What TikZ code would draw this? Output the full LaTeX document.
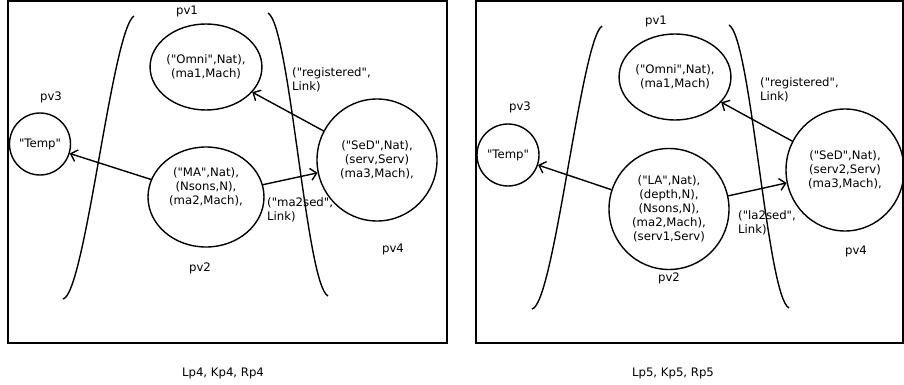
\documentclass[tikz,border=0pt]{standalone}
\usepackage{fontspec}
\newfontfamily\dvsans{DejaVu Sans}
\usetikzlibrary{arrows.meta,shapes.geometric}
\begin{document}
\begin{tikzpicture}[x=1pt,y=-1pt,
  every node/.style={font=\dvsans\fontsize{11.7}{14}\selectfont},
  frame/.style={draw, line width=1.7pt},
  blob/.style={draw, ellipse, line width=1.4pt, inner sep=0pt, align=center},
  bracket/.style={line width=1.4pt},
  arr/.style={line width=1.4pt, -{Straight Barb[length=6pt,width=12pt]}},
  lbl/.style={inner sep=0pt},
  edgelbl/.style={inner sep=0pt, align=left, anchor=west},
]
\useasboundingbox (0,0) rectangle (904,385);

% ---------- left panel ----------
\draw[frame] (8,1) rectangle (447,343);
\node[lbl] (pv1a) at (187,11) {pv1};
\node[blob, minimum width=104pt, minimum height=86pt] (omnia) at (206,67) {("Omni",Nat),\\(ma1,Mach)};
\node[lbl] (pv3a) at (51,97) {pv3};
\node[blob, minimum width=61pt, minimum height=62pt] (tempa) at (40,144) {"Temp"};
\node[blob, minimum width=116pt, minimum height=100pt] (maa) at (206,197) {};
\node[lbl, align=center] (matxt) at (206,187) {("MA",Nat),\\(Nsons,N),\\(ma2,Mach),};
\node[blob, minimum width=120pt, minimum height=122pt] (seda) at (377,160) {("SeD",Nat),\\(serv,Serv)\\(ma3,Mach),};
\node[edgelbl] (rega) at (292,80) {("registered",\\Link)};
\node[edgelbl] (m2s) at (267,210) {("ma2sed",\\Link)};
\node[lbl] (pv4a) at (393,249) {pv4};
\node[lbl] (pv2a) at (200,268) {pv2};
\draw[bracket] (63,299) .. controls (85,295) and (112,30) .. (134,16);
\draw[bracket] (268,13) .. controls (290,25) and (306,285) .. (328,296);
\draw[arr] (maa) -- (tempa);
\draw[arr] (maa) -- (seda);
\draw[arr] (seda) -- (omnia);
\node[lbl] (capa) at (223,373) {Lp4, Kp4, Rp4};

% ---------- right panel ----------
\draw[frame] (476,1) rectangle (903,343);
\node[lbl] (pv1b) at (656,21) {pv1};
\node[blob, minimum width=104pt, minimum height=86pt] (omnib) at (675,77) {("Omni",Nat),\\(ma1,Mach)};
\node[lbl] (pv3b) at (520,107) {pv3};
\node[blob, minimum width=62pt, minimum height=62pt] (tempb) at (508,155) {"Temp"};
\node[blob, minimum width=120pt, minimum height=121pt] (lab) at (669,209) {("LA",Nat),\\(depth,N),\\(Nsons,N),\\(ma2,Mach),\\(serv1,Serv)};
\node[blob, minimum width=118pt, minimum height=122pt] (sedb) at (845,170) {("SeD",Nat),\\(serv2,Serv)\\(ma3,Mach),};
\node[edgelbl] (regb) at (760,90) {("registered",\\Link)};
\node[edgelbl] (l2s) at (738,223) {("la2sed",\\Link)};
\node[lbl] (pv4b) at (856,251) {pv4};
\node[lbl] (pv2b) at (669,278) {pv2};
\draw[bracket] (532,309) .. controls (554,305) and (581,40) .. (602,26);
\draw[bracket] (729,25) .. controls (751,37) and (767,297) .. (789,308);
\draw[arr] (lab) -- (tempb);
\draw[arr] (lab) -- (sedb);
\draw[arr] (sedb) -- (omnib);
\node[lbl] (capb) at (673,373) {Lp5, Kp5, Rp5};
\end{tikzpicture}
\end{document}
